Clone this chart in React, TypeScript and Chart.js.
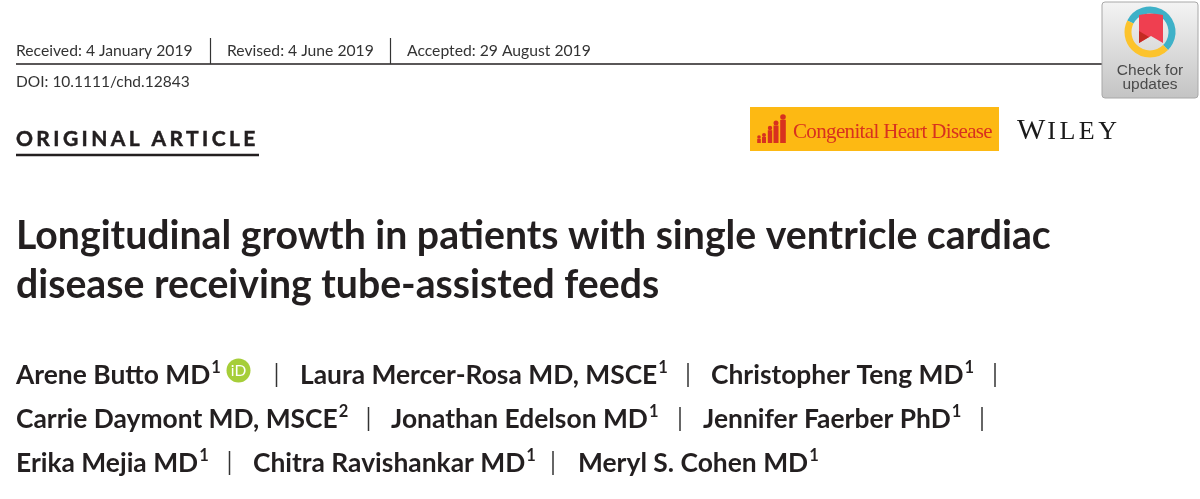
import { useEffect, useRef } from 'react';
import Chart from 'chart.js/auto';

// text of the page
const dateLabels = ['Received: 4 January 2019', 'Revised: 4 June 2019', 'Accepted: 29 August 2019'];
const doiLabel = 'DOI: 10.1111/chd.12843';
const sectionLabel = 'ORIGINAL ARTICLE';
const titleLines = ['Longitudinal growth in patients with single ventricle cardiac', 'disease receiving tube-assisted feeds'];
const authorsLine1 = ['Arene Butto MD', 'Laura Mercer-Rosa MD, MSCE', 'Christopher Teng MD'];
const authorsLine2 = ['Carrie Daymont MD, MSCE', 'Jonathan Edelson MD', 'Jennifer Faerber PhD'];
const authorsLine3 = ['Erika Mejia MD', 'Chitra Ravishankar MD', 'Meryl S. Cohen MD'];
const affiliations1 = ['1', '1', '1'];
const affiliations2 = ['2', '1', '1'];
const affiliations3 = ['1', '1', '1'];
const journalName = 'Congenital Heart Disease';
const publisherName = 'WILEY';
const badgeLines = ['Check for', 'updates'];

const INK = '#231f20';

function text(ctx: CanvasRenderingContext2D, s: string, x: number, y: number, font: string, color = INK, spacing = '0px') {
    ctx.font = font;
    ctx.fillStyle = color;
    (ctx as any).letterSpacing = spacing;
    ctx.fillText(s, x, y);
    const w = ctx.measureText(s).width;
    (ctx as any).letterSpacing = '0px';
    return w;
}

function rule(ctx: CanvasRenderingContext2D, x1: number, y1: number, x2: number, y2: number, width: number, color = INK) {
    ctx.strokeStyle = color;
    ctx.lineWidth = width;
    ctx.beginPath();
    ctx.moveTo(x1, y1);
    ctx.lineTo(x2, y2);
    ctx.stroke();
}

function drawAuthors(ctx: CanvasRenderingContext2D, names: string[], sups: string[], xs: number[], bars: number[], base: number) {
    names.forEach((name, i) => {
        const w = text(ctx, name, xs[i], base, '700 26.4px Lato');
        text(ctx, sups[i], xs[i] + w + 1, base - 11, '700 16.5px Lato');
    });
    bars.forEach((x) => rule(ctx, x, base - 21, x, base + 3, 1.5, '#333'));
}

function drawBadge(ctx: CanvasRenderingContext2D) {
    const g = ctx.createLinearGradient(0, 2, 0, 98);
    g.addColorStop(0, '#f4f4f4');
    g.addColorStop(1, '#c4c4c4');
    ctx.fillStyle = g;
    ctx.strokeStyle = '#a8a8a8';
    ctx.lineWidth = 1;
    ctx.beginPath();
    ctx.roundRect(1102, 2, 96, 96, 3);
    ctx.fill();
    ctx.stroke();

    // ring
    ctx.lineWidth = 7;
    ctx.strokeStyle = '#3eb1c8';
    ctx.beginPath();
    ctx.arc(1150, 32, 22, Math.PI * 1.15, Math.PI * 2.25);
    ctx.stroke();
    ctx.strokeStyle = '#fcc32c';
    ctx.beginPath();
    ctx.arc(1150, 32, 22, Math.PI * 0.25, Math.PI * 1.15);
    ctx.stroke();

    // bookmark
    ctx.fillStyle = '#ef3f50';
    ctx.beginPath();
    ctx.moveTo(1139, 15);
    ctx.quadraticCurveTo(1151, 12, 1163, 15);
    ctx.lineTo(1163, 43);
    ctx.lineTo(1151, 36);
    ctx.lineTo(1139, 43);
    ctx.closePath();
    ctx.fill();
    ctx.fillStyle = '#c42a22';
    ctx.beginPath();
    ctx.moveTo(1139, 43);
    ctx.lineTo(1139, 31);
    ctx.lineTo(1149, 37);
    ctx.closePath();
    ctx.fill();

    ctx.textAlign = 'center';
    text(ctx, badgeLines[0], 1150, 75, '15.5px "Liberation Sans"', '#4a4a4a');
    text(ctx, badgeLines[1], 1150, 89, '15.5px "Liberation Sans"', '#4a4a4a');
    ctx.textAlign = 'left';
}

function drawLogo(ctx: CanvasRenderingContext2D) {
    ctx.fillStyle = '#fdb913';
    ctx.fillRect(750, 107, 249, 44);
    // little family figures, tallest on the right
    const red = '#d8311f';
    ctx.fillStyle = red;
    const figures = [[759, 137, 1.8], [764, 135, 2], [770, 128, 2.2], [776, 123, 2.5], [783, 117, 2.8]];
    figures.forEach(([x, top, r]) => {
        ctx.beginPath();
        ctx.arc(x, top, r, 0, Math.PI * 2);
        ctx.fill();
        ctx.fillRect(x - r, top + r, r * 2, 143 - top - r);
    });
    text(ctx, journalName, 793, 138, '21px "Liberation Serif"', red, '-0.65px');

    // WILEY, small capitals after a big W
    const w = text(ctx, publisherName[0], 1017, 139, '30px "Liberation Serif"', '#1a1a1a');
    text(ctx, publisherName.slice(1), 1017 + w + 2, 139, '26px "Liberation Serif"', '#1a1a1a', '3.5px');
}

const pagePlugin = {
    id: 'page',
    afterDraw(chart: any) {
        const ctx: CanvasRenderingContext2D = chart.ctx;
        ctx.save();
        ctx.textBaseline = 'alphabetic';

        // dates header
        const dateXs = [16, 227, 407];
        dateLabels.forEach((s, i) => text(ctx, s, dateXs[i], 56, '15.7px Lato', '#333'));
        rule(ctx, 16, 64, 1102, 64, 1.6);
        rule(ctx, 210.5, 38, 210.5, 64, 1.2, '#333');
        rule(ctx, 390.5, 38, 390.5, 64, 1.2, '#333');
        text(ctx, doiLabel, 16, 87, '15.5px Lato', '#333');

        // section, a touch heavier than plain bold
        text(ctx, sectionLabel, 16, 146, '700 21px Lato', INK, '3.4px');
        ctx.strokeStyle = INK;
        ctx.lineWidth = 0.5;
        (ctx as any).letterSpacing = '3.4px';
        ctx.strokeText(sectionLabel, 16, 146);
        (ctx as any).letterSpacing = '0px';
        rule(ctx, 16, 155, 259, 155, 2.4);

        // title
        text(ctx, titleLines[0], 16, 249, '700 39.2px Lato');
        text(ctx, titleLines[1], 16, 298, '700 39.2px Lato');

        // authors
        drawAuthors(ctx, authorsLine1, affiliations1, [16, 300, 711], [276.5, 688, 995], 384);
        drawAuthors(ctx, authorsLine2, affiliations2, [16, 391, 703], [368.5, 680, 982], 428);
        drawAuthors(ctx, authorsLine3, affiliations3, [16, 253, 578], [229.5, 553], 472);

        // orcid
        ctx.fillStyle = '#a6ce39';
        ctx.beginPath();
        ctx.arc(238.5, 370.5, 12, 0, Math.PI * 2);
        ctx.fill();
        ctx.textAlign = 'center';
        text(ctx, 'iD', 238.5, 376, '400 15.5px Lato', '#fff');
        ctx.textAlign = 'left';

        drawLogo(ctx);
        drawBadge(ctx);
        ctx.restore();
    },
};

export default function App() {
    const canvasRef = useRef<HTMLCanvasElement>(null);

    useEffect(() => {
        if (!canvasRef.current) return;
        const chart = new Chart(canvasRef.current as any, {
            type: 'scatter',
            data: { datasets: [] },
            options: {
                animation: false,
                responsive: false,
                devicePixelRatio: 1,
                layout: { padding: 0 },
                plugins: { legend: { display: false }, tooltip: { enabled: false } },
                scales: { x: { display: false }, y: { display: false } },
            },
            plugins: [pagePlugin],
        } as any);
        return () => chart.destroy();
    }, []);

    return (
        <canvas
            ref={canvasRef}
            width={1200}
            height={499}
            style={{ position: 'absolute', left: 0, top: 0, width: 1200, height: 499, background: '#fff' }}
        ></canvas>
    );
}
